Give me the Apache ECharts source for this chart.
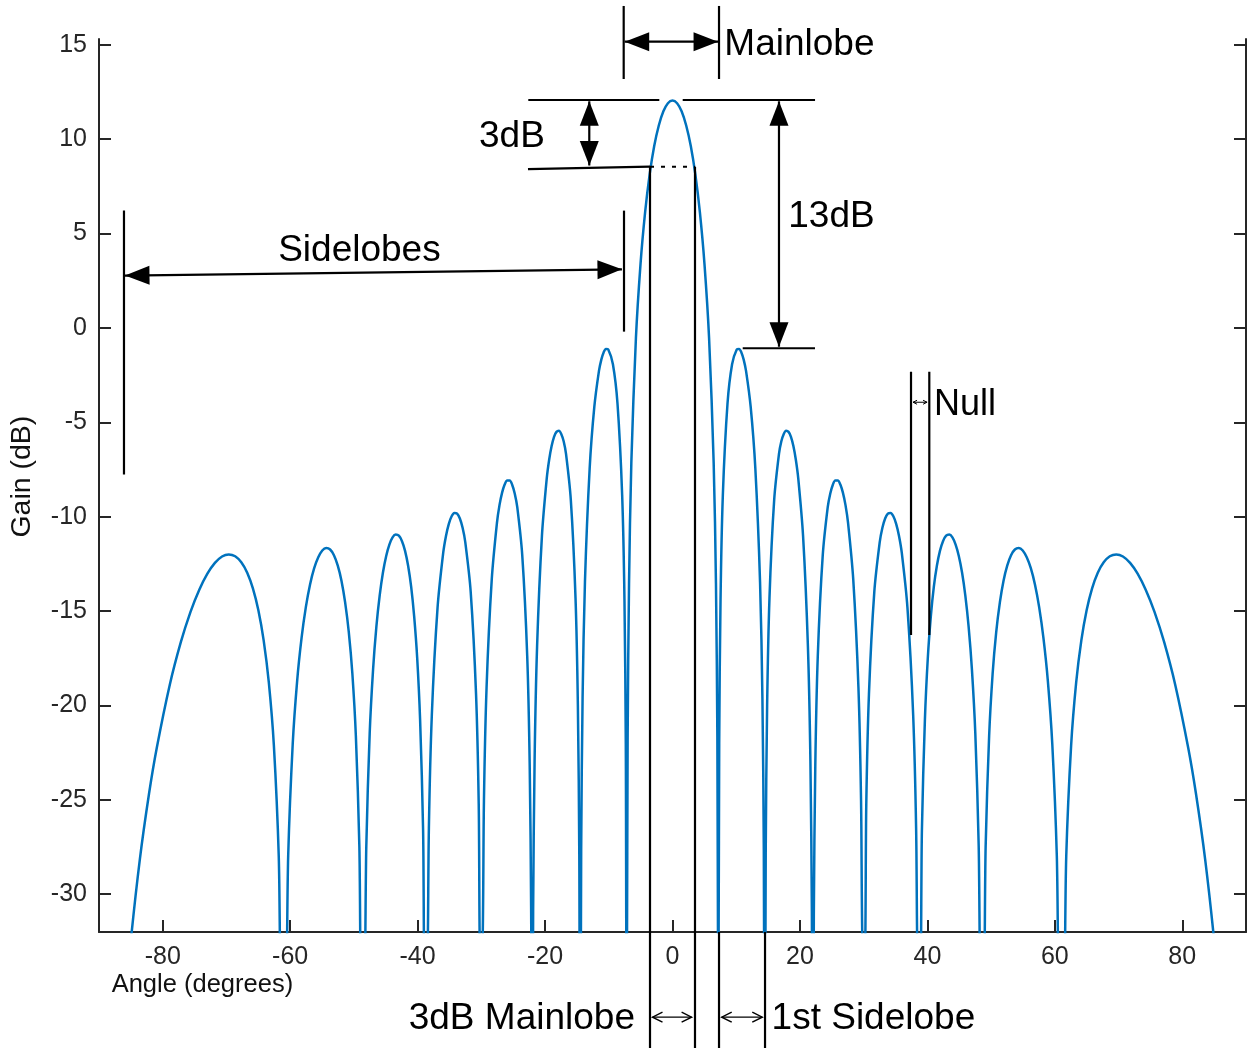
<!DOCTYPE html>
<html>
<head>
<meta charset="utf-8">
<script src="https://cdn.jsdelivr.net/npm/echarts@6/dist/echarts.min.js"></script>
<style>
html,body{margin:0;padding:0;background:#ffffff;}
#chart{width:1247px;height:1048px;}
</style>
</head>
<body>
<div id="chart"></div>
<script>
// ---- Array gain pattern (angle in degrees, gain in dB) ----
const rightAngles = [0, 0.72, 1.43, 2.15, 2.87, 3.58, 4.30, 5.02, 5.74, 6.46, 6.82, 7.04, 7.15,
  7.22, 7.33, 7.54, 7.90, 8.63, 9.35, 10.08, 10.44, 10.81, 11.17, 11.54, 12.27, 13.00, 13.74, 14.11, 14.33, 14.44,
  14.52, 14.63, 14.85, 15.22, 15.96, 16.71, 17.08, 17.46, 17.83, 18.21, 18.59, 18.97, 19.35, 19.73, 20.49, 21.25, 21.64, 21.87, 21.99,
  22.06, 22.18, 22.41, 22.80, 23.58, 24.36, 24.76, 25.15, 25.55, 25.94, 26.34, 26.74, 27.15, 27.55, 28.36, 29.18, 29.59, 29.83,
  30.17, 30.41, 30.83, 31.67, 32.52, 32.94, 33.37, 33.80, 34.23, 34.66, 35.10, 35.54, 35.98, 36.87, 37.77, 38.23, 38.50,
  38.87, 39.14, 39.61, 40.07, 40.54, 41.01, 41.49, 41.97, 42.45, 42.94, 43.43, 43.93, 44.43, 44.93, 45.44, 45.95, 46.47, 46.99, 47.52, 48.05, 48.38,
  48.81, 49.14, 49.69, 50.24, 50.80, 51.38, 51.95, 52.54, 53.13, 53.73, 54.34, 54.96, 55.59, 56.23, 56.88, 57.54, 58.21, 58.90, 59.60, 60.31, 60.75,
  61.34, 61.79, 62.56, 63.35, 64.16, 64.99, 65.85, 66.74, 67.67, 68.63, 69.64, 70.69, 71.81, 72.99, 74.26, 75.64, 77.16, 78.89, 80.93, 82.15, 83.59, 85.04, 85.95];
const rightGains = [12.04, 11.90, 11.47, 10.72, 9.63, 8.14, 6.12, 3.38, -0.54, -7.14, -13.52, -21.71, -33.88,
  -33.97, -22.05, -14.37, -8.86, -4.02, -1.93, -1.15, -1.12, -1.30, -1.68, -2.28, -4.19, -7.45, -13.47, -19.60, -27.65, -39.76,
  -39.80, -27.82, -20.01, -14.30, -9.10, -6.68, -6.01, -5.62, -5.45, -5.51, -5.77, -6.26, -6.97, -7.96, -11.02, -16.87, -22.92, -30.92, -43.00,
  -43.03, -31.03, -23.17, -17.38, -12.04, -9.50, -8.77, -8.32, -8.09, -8.09, -8.30, -8.73, -9.39, -10.33, -13.30, -19.06, -25.05, -33.04,
  -33.10, -25.22, -19.40, -13.98, -11.35, -10.59, -10.10, -9.84, -9.80, -9.98, -10.38, -11.01, -11.91, -14.82, -20.52, -26.49, -34.45,
  -34.50, -26.60, -20.75, -17.46, -15.28, -13.72, -12.60, -11.81, -11.30, -11.01, -10.95, -11.10, -11.48, -12.08, -12.96, -14.17, -15.82, -18.10, -21.48, -27.43, -35.38,
  -35.41, -27.50, -21.62, -18.31, -16.11, -14.53, -13.39, -12.58, -12.04, -11.74, -11.66, -11.79, -12.15, -12.73, -13.59, -14.79, -16.42, -18.68, -22.04, -27.96, -35.91,
  -35.92, -28.00, -22.10, -18.78, -16.55, -14.96, -13.80, -12.97, -12.42, -12.10, -12.00, -12.11, -12.45, -13.02, -13.87, -15.04, -16.65, -18.90, -22.24, -24.68, -28.15, -32.57, -36.08];
const leftAngles = [-85.95, -85.04, -83.59, -82.15, -80.93, -78.89, -77.16, -75.64, -74.26, -72.99, -71.81, -70.69, -69.64, -68.63, -67.67, -66.74, -65.85, -64.99, -64.16, -63.35, -62.56, -61.79, -61.34,
  -60.75, -60.31, -59.60, -58.90, -58.21, -57.54, -56.88, -56.23, -55.59, -54.96, -54.34, -53.73, -53.13, -52.54, -51.95, -51.38, -50.80, -50.24, -49.69, -49.14, -48.81,
  -48.38, -48.05, -47.52, -46.99, -46.47, -45.95, -45.44, -44.93, -44.43, -43.93, -43.43, -42.94, -42.45, -41.97, -41.49, -41.01, -40.54, -40.07, -39.61, -39.14, -38.87,
  -38.50, -38.23, -37.77, -36.87, -35.98, -35.54, -35.10, -34.66, -34.23, -33.80, -33.37, -32.94, -32.52, -31.67, -30.83, -30.41, -30.17,
  -29.83, -29.59, -29.18, -28.36, -27.55, -27.15, -26.74, -26.34, -25.94, -25.55, -25.15, -24.76, -24.36, -23.58, -22.80, -22.41, -22.18, -22.06,
  -21.99, -21.87, -21.64, -21.25, -20.49, -19.73, -19.35, -18.97, -18.59, -18.21, -17.83, -17.46, -17.08, -16.71, -15.96, -15.22, -14.85, -14.63, -14.52,
  -14.44, -14.33, -14.11, -13.74, -13.00, -12.27, -11.54, -11.17, -10.81, -10.44, -10.08, -9.35, -8.63, -7.90, -7.54, -7.33, -7.22,
  -7.15, -7.04, -6.82, -6.46, -5.74, -5.02, -4.30, -3.58, -2.87, -2.15, -1.43, -0.72];
const leftGains = [-36.08, -32.57, -28.15, -24.68, -22.24, -18.90, -16.65, -15.04, -13.87, -13.02, -12.45, -12.11, -12.00, -12.10, -12.42, -12.97, -13.80, -14.96, -16.55, -18.78, -22.10, -28.00, -35.92,
  -35.91, -27.96, -22.04, -18.68, -16.42, -14.79, -13.59, -12.73, -12.15, -11.79, -11.66, -11.74, -12.04, -12.58, -13.39, -14.53, -16.11, -18.31, -21.62, -27.50, -35.41,
  -35.38, -27.43, -21.48, -18.10, -15.82, -14.17, -12.96, -12.08, -11.48, -11.10, -10.95, -11.01, -11.30, -11.81, -12.60, -13.72, -15.28, -17.46, -20.75, -26.60, -34.50,
  -34.45, -26.49, -20.52, -14.82, -11.91, -11.01, -10.38, -9.98, -9.80, -9.84, -10.10, -10.59, -11.35, -13.98, -19.40, -25.22, -33.10,
  -33.04, -25.05, -19.06, -13.30, -10.33, -9.39, -8.73, -8.30, -8.09, -8.09, -8.32, -8.77, -9.50, -12.04, -17.38, -23.17, -31.03, -43.03,
  -43.00, -30.92, -22.92, -16.87, -11.02, -7.96, -6.97, -6.26, -5.77, -5.51, -5.45, -5.62, -6.01, -6.68, -9.10, -14.30, -20.01, -27.82, -39.80,
  -39.76, -27.65, -19.60, -13.47, -7.45, -4.19, -2.28, -1.68, -1.30, -1.12, -1.15, -1.93, -4.02, -8.86, -14.37, -22.05, -33.97,
  -33.88, -21.71, -13.52, -7.14, -0.54, 3.38, 6.12, 8.14, 9.63, 10.72, 11.47, 11.90];

// ---- Tick labels ----
const xTicks = [-80, -60, -40, -20, 0, 20, 40, 60, 80];
const yTicks = [-30, -25, -20, -15, -10, -5, 0, 5, 10, 15];

// ---- Annotations, in data coordinates (angle, dB) ----
const annoLines = [
  [-7.66, 17.05, -7.66, 13.18],
  [7.30, 17.05, 7.30, 13.18],
  [-22.63, 12.07, -2.07, 12.07],
  [1.60, 12.07, 22.37, 12.07],
  [-22.68, 8.41, -3.53, 8.54],
  [-3.53, 8.54, -3.53, -38.4],
  [3.53, 8.54, 3.53, -38.4],
  [11.02, -1.08, 22.36, -1.08],
  [-86.08, 6.21, -86.08, -7.77],
  [-7.61, 6.21, -7.61, -0.20],
  [37.43, -2.32, 37.43, -16.27],
  [40.30, -2.32, 40.30, -16.27],
  [7.30, -32.0, 7.30, -38.4],
  [14.52, -32.0, 14.52, -38.4]
];
const dottedLines = [[-3.53, 8.54, 3.53, 8.54]];
const bigArrows = [
  [-7.50, 15.16, 7.15, 15.16],
  [-13.06, 12.0, -13.06, 8.6],
  [16.71, 12.0, 16.71, -1.0],
  [-85.92, 2.77, -7.93, 3.10]
];
const smallArrows = [
  [37.75, -3.94, 39.95, -3.94],
  [-3.14, -36.51, 3.00, -36.51],
  [7.72, -36.51, 14.09, -36.51]
];
const annoTexts = ['Mainlobe', '3dB', '13dB', 'Sidelobes', 'Null', '3dB Mainlobe', '1st Sidelobe'];
const annoTextX = [8.13, -30.37, 18.17, -61.88, 41.04, -5.89, 15.55];
const annoTextY = [14.97, 10.11, 5.88, 4.09, -4.09, -36.62, -36.62];
const annoTextAlign = ['left', 'left', 'left', 'left', 'left', 'right', 'left'];
const xName = 'Angle (degrees)';
const yName = 'Gain (dB)';

// ---- Chart ----
const AX = '#262626';
const FONT = '"Liberation Sans", Arial, Helvetica, sans-serif';
const curveData = leftAngles.map((a, i) => [a, leftGains[i]])
  .concat(rightAngles.map((a, i) => [a, rightGains[i]]));

const chart = echarts.init(document.getElementById('chart'), null, {renderer: 'canvas', width: 1247, height: 1048});

function yAxisDef(pos, showLabels) {
  return {
    type: 'value', position: pos, min: -32, max: 15.3,
    axisLine: {show: true, onZero: false, lineStyle: {color: AX, width: 2}},
    axisTick: {show: true, inside: true, length: 12, customValues: yTicks, lineStyle: {color: AX, width: 2}},
    axisLabel: {show: showLabels, customValues: yTicks, color: AX, fontSize: 25, fontFamily: FONT, margin: 12},
    splitLine: {show: false}
  };
}

chart.setOption({
  animation: false,
  backgroundColor: '#ffffff',
  grid: {left: 99, right: 1, top: 39, bottom: 116, containLabel: false, outerBoundsMode: 'none'},
  xAxis: {
    type: 'value', min: -90, max: 90,
    axisLine: {show: true, onZero: false, lineStyle: {color: AX, width: 2}},
    axisTick: {show: true, inside: true, length: 12, customValues: xTicks, lineStyle: {color: AX, width: 2}},
    axisLabel: {customValues: xTicks, color: AX, fontSize: 25, fontFamily: FONT, margin: 13},
    splitLine: {show: false}
  },
  yAxis: [yAxisDef('left', true), yAxisDef('right', false)],
  series: [{
    type: 'line', data: curveData, symbol: 'none', showSymbol: false,
    smooth: 0.3, clip: true, z: 3,
    lineStyle: {color: '#0072BD', width: 2.5}
  }]
});

// ---- Annotation drawing via the chart's own scales ----
const P = (x, y) => chart.convertToPixel({seriesIndex: 0}, [x, y]);
const els = [];
function seg(a, b, w, dash) {
  const st = {stroke: '#000', lineWidth: w, lineCap: 'butt'};
  if (dash) st.lineDash = dash;
  els.push({type: 'line', silent: true, z: 10, shape: {x1: a[0], y1: a[1], x2: b[0], y2: b[1]}, style: st});
}
function headPts(tip, from, L, W) {
  const dx = tip[0] - from[0], dy = tip[1] - from[1];
  const d = Math.hypot(dx, dy), ux = dx / d, uy = dy / d;
  const bx = tip[0] - ux * L, by = tip[1] - uy * L;
  return [[tip[0], tip[1]], [bx - uy * W / 2, by + ux * W / 2], [bx + uy * W / 2, by - ux * W / 2]];
}
annoLines.forEach(l => seg(P(l[0], l[1]), P(l[2], l[3]), 2.2));
dottedLines.forEach(l => seg(P(l[0], l[1]), P(l[2], l[3]), 2, [4, 7]));
bigArrows.forEach(l => {
  const a = P(l[0], l[1]), b = P(l[2], l[3]);
  seg(a, b, 2.2);
  els.push({type: 'polygon', silent: true, z: 11, shape: {points: headPts(a, b, 24.5, 19)}, style: {fill: '#000'}});
  els.push({type: 'polygon', silent: true, z: 11, shape: {points: headPts(b, a, 24.5, 19)}, style: {fill: '#000'}});
});
smallArrows.forEach((l, i) => {
  const a = P(l[0], l[1]), b = P(l[2], l[3]);
  const L = i === 0 ? 4 : 10, W = i === 0 ? 4 : 10, w = i === 0 ? 1 : 1.4;
  seg(a, b, w);
  const h1 = headPts(a, b, L, W), h2 = headPts(b, a, L, W);
  els.push({type: 'polyline', silent: true, z: 11, shape: {points: [h1[1], h1[0], h1[2]]}, style: {stroke: '#000', lineWidth: w, fill: null}});
  els.push({type: 'polyline', silent: true, z: 11, shape: {points: [h2[1], h2[0], h2[2]]}, style: {stroke: '#000', lineWidth: w, fill: null}});
});
function txt(s, p, size, align, color, rot) {
  els.push({
    type: 'text', silent: true, z: 12, x: p[0], y: p[1], rotation: rot || 0,
    style: {text: s, fontSize: size, fontFamily: FONT, fill: color,
      align: align, textAlign: align, verticalAlign: 'middle', textVerticalAlign: 'middle'}
  });
}
annoTexts.forEach((s, i) => txt(s, P(annoTextX[i], annoTextY[i]), s === 'Null' ? 36 : 37, annoTextAlign[i], '#000'));
txt(xName, P(-88.01, -34.78), 25.5, 'left', '#111');
txt(yName, P(-102.09, -7.88), 28.5, 'center', '#111', Math.PI / 2);

chart.setOption({graphic: {elements: els}});
</script>
</body>
</html>
